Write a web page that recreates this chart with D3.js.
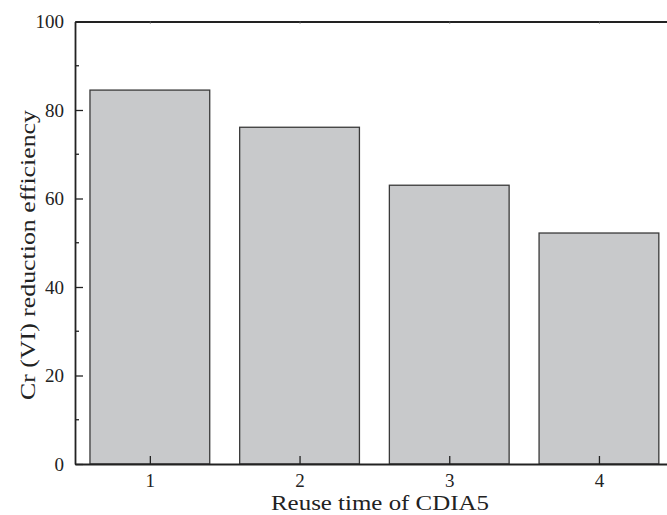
<!DOCTYPE html>
<html>
<head>
<meta charset="utf-8">
<script src="https://cdn.jsdelivr.net/npm/d3@7"></script>
<style>
  html, body { margin: 0; padding: 0; background: #fff; }
  svg { display: block; }
  text { font-family: "Liberation Serif", "Times New Roman", serif; fill: #222; }
</style>
</head>
<body>
<svg id="chart" width="667" height="515"></svg>
<script>
// Cr(VI) reduction efficiency over successive reuse cycles
const reuseTimes = [1, 2, 3, 4];
const efficiency = [84.5, 76.1, 63.0, 52.2];
const yTicks = [0, 20, 40, 60, 80, 100];
const yMinorTicks = [10, 30, 50, 70, 90];

const svg = d3.select("#chart");
const margin = { left: 75, top: 21.5, bottom: 51 };
const plotBottom = 515 - margin.bottom;

const x = d3.scaleLinear().domain([0.5, 4.5]).range([margin.left, margin.left + 4 * 149.7]);
const y = d3.scaleLinear().domain([0, 100]).range([plotBottom, margin.top]);
const barW = (x(1.4) - x(0.6));

// bars
svg.append("g").selectAll("rect")
  .data(reuseTimes)
  .join("rect")
  .attr("x", (d) => x(d) - barW / 2)
  .attr("y", (d, i) => y(efficiency[i]))
  .attr("width", barW)
  .attr("height", (d, i) => y(0) - y(efficiency[i]))
  .attr("fill", "#c8c9cb")
  .attr("stroke", "#3a3a3a")
  .attr("stroke-width", 1.3);

// left axis, ticks pointing inward
const leftAxis = svg.append("g").attr("transform", `translate(${margin.left},0)`)
  .call(d3.axisLeft(y).tickValues(yTicks).tickSizeInner(-8).tickSizeOuter(0).tickPadding(11));
leftAxis.attr("font-family", null).attr("font-size", null);
leftAxis.selectAll("text").style("font-size", "19px");
leftAxis.selectAll(".tick line").attr("stroke", "#222").attr("stroke-width", 1.3);
leftAxis.select(".domain").attr("stroke", "#222").attr("stroke-width", 1.8);
leftAxis.selectAll(".minor").data(yMinorTicks).join("line").attr("class", "minor")
  .attr("x1", 0).attr("x2", 4).attr("y1", (d) => y(d)).attr("y2", (d) => y(d))
  .attr("stroke", "#222").attr("stroke-width", 1.3);

// bottom axis, ticks pointing inward
const bottomAxis = svg.append("g").attr("transform", `translate(0,${plotBottom})`)
  .call(d3.axisBottom(x).tickValues(reuseTimes).tickFormat(d3.format("d")).tickSizeInner(-8).tickSizeOuter(0).tickPadding(10));
bottomAxis.attr("font-family", null).attr("font-size", null);
bottomAxis.selectAll("text").style("font-size", "19px");
bottomAxis.selectAll(".tick line").attr("stroke", "#222").attr("stroke-width", 1.3);
bottomAxis.select(".domain").attr("stroke", "#222").attr("stroke-width", 1.8);

// top frame line with small category marks
const topAxis = svg.append("g").attr("transform", `translate(0,${margin.top})`)
  .call(d3.axisTop(x).tickValues(reuseTimes).tickFormat("").tickSizeInner(-2).tickSizeOuter(0));
topAxis.selectAll(".tick line").attr("stroke", "#555").attr("stroke-width", 1);
topAxis.select(".domain").attr("stroke", "#222").attr("stroke-width", 1.8);

// right frame line
svg.append("line")
  .attr("x1", x(4.5)).attr("x2", x(4.5)).attr("y1", margin.top).attr("y2", plotBottom)
  .attr("stroke", "#222").attr("stroke-width", 1.8);

// axis titles
svg.append("text")
  .attr("transform", "translate(35,255) rotate(-90)")
  .attr("text-anchor", "middle")
  .style("font-size", "20.5px")
  .attr("textLength", 290)
  .attr("lengthAdjust", "spacingAndGlyphs")
  .text("Cr (VI) reduction efficiency");

svg.append("text")
  .attr("x", 380).attr("y", 510)
  .attr("text-anchor", "middle")
  .style("font-size", "20.5px")
  .attr("textLength", 218)
  .attr("lengthAdjust", "spacingAndGlyphs")
  .text("Reuse time of CDIA5");
</script>
</body>
</html>
